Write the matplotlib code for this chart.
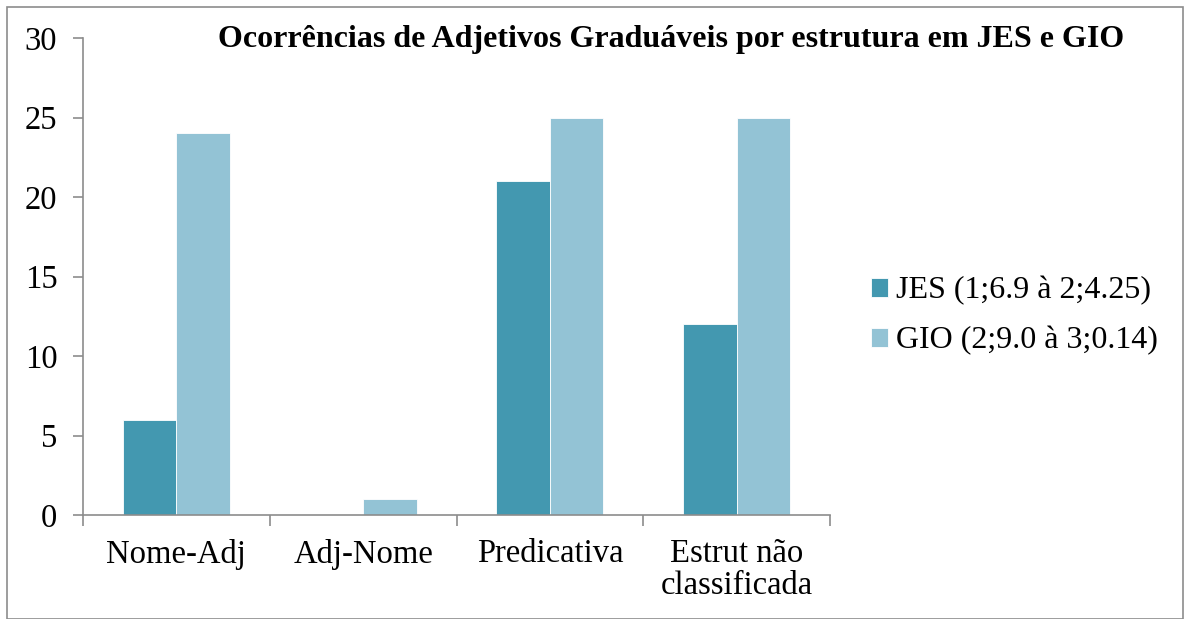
import matplotlib
matplotlib.use("Agg")
import matplotlib.pyplot as plt
import numpy as np
from matplotlib.patches import Rectangle

categories = ["Nome-Adj", "Adj-Nome", "Predicativa", "Estrut não\nclassificada"]
jes = [6, 0, 21, 12]
gio = [24, 1, 25, 25]
series_labels = ["JES (1;6.9 à 2;4.25)", "GIO (2;9.0 à 3;0.14)"]
title = "Ocorrências de Adjetivos Graduáveis por estrutura em JES e GIO"

c_jes = "#4398B0"
c_gio = "#93C3D5"
axis_c = "#8c8c8c"

plt.rcParams['font.family'] = ['Liberation Serif', 'DejaVu Serif']

fig = plt.figure(figsize=(11.86, 6.19), dpi=100)
W, H = 1186, 619
ax = fig.add_axes([83 / W, 1 - 515 / H, (830 - 83) / W, (515 - 38) / H])

x = np.arange(len(categories))
bw = 0.287
ax.bar(x - bw / 2, jes, bw, color=c_jes, edgecolor="white", linewidth=0.6, label=series_labels[0])
ax.bar(x + bw / 2, gio, bw, color=c_gio, edgecolor="white", linewidth=0.6, label=series_labels[1])

ax.set_xlim(-0.5, len(categories) - 0.5)
ax.set_ylim(0, 30)
ax.set_yticks(range(0, 31, 5))
ax.tick_params(axis='y', labelsize=23.5, length=7, width=1.2, color=axis_c, pad=11.5)
ax.set_xticks(np.arange(-0.5, len(categories), 1.0))
ax.set_xticklabels([])
ax.tick_params(axis='x', length=8, width=1.2, color=axis_c)
ax.set_xticks(x, minor=True)
ax.set_xticklabels(categories, minor=True, fontsize=23.5, linespacing=1.08, va='top')
ax.tick_params(axis='x', which='minor', length=0, pad=17)
for s in ['top', 'right']:
    ax.spines[s].set_visible(False)
for s in ['left', 'bottom']:
    ax.spines[s].set_color(axis_c)
    ax.spines[s].set_linewidth(1.2)

fig.text(671 / W, 1 - 40 / H, title, ha='center', va='center', fontsize=23, fontweight='bold')

leg = fig.legend(loc='center left', bbox_to_anchor=(858 / W, 1 - 316 / H), frameon=False,
                 fontsize=23, handlelength=0.55, handleheight=0.55, handletextpad=0.25,
                 labelspacing=0.65, borderaxespad=0)

fig.patches.append(Rectangle((7 / W, 0), (1183 - 7) / W, 1 - 7 / H, transform=fig.transFigure,
                             fill=False, edgecolor="#8c8c8c", linewidth=1.2))

fig.savefig("out.png", dpi=100)
